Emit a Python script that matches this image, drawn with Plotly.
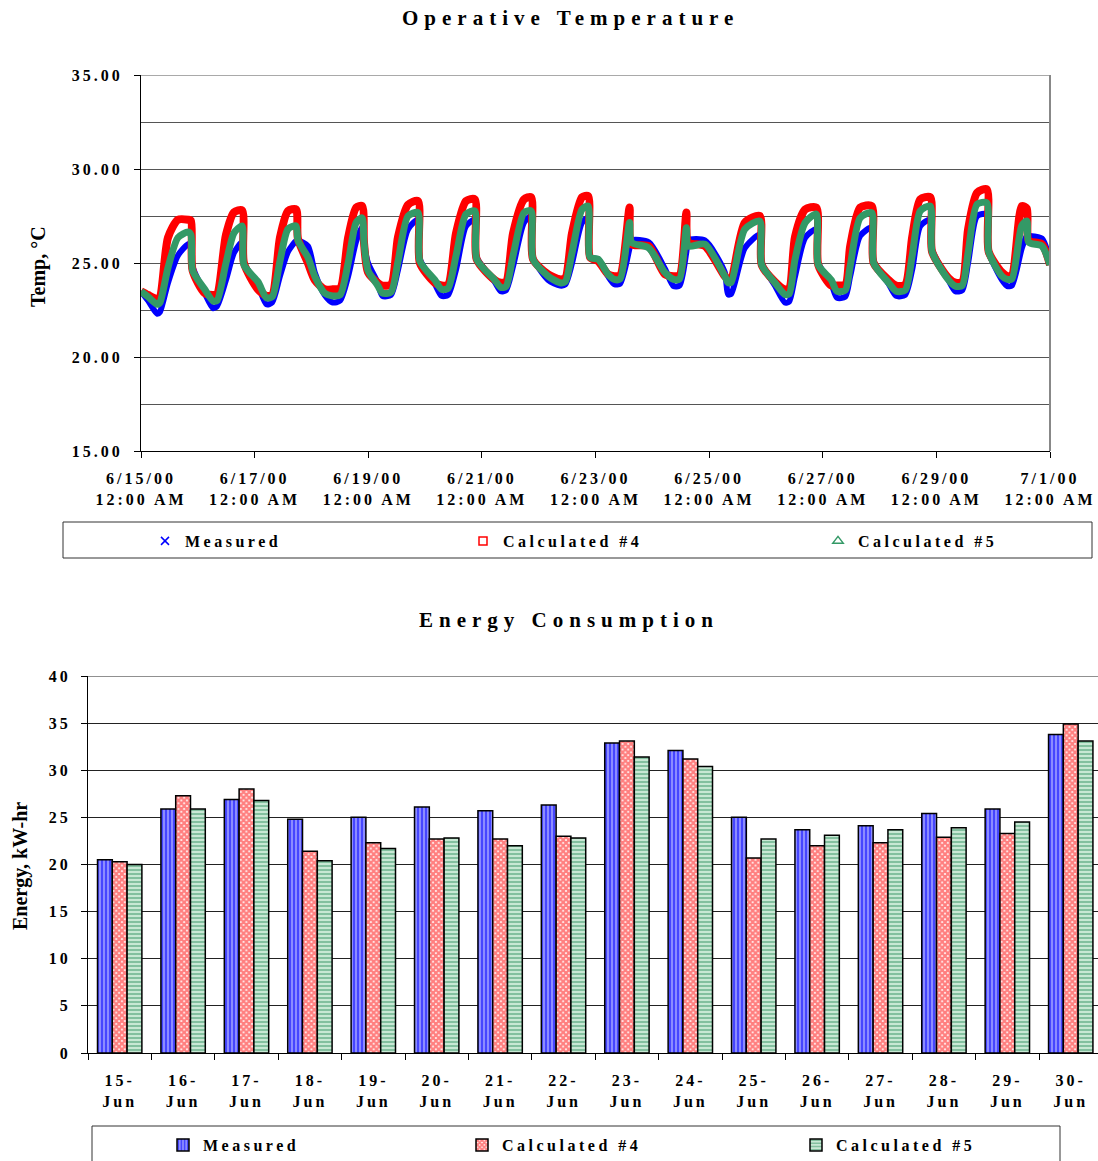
import plotly.graph_objects as go

# ---------------- data: operative temperature (hours since 6/15/00 00:00) ----------------
hours = [0, 3,
         6.8, 8, 11.4, 15.6, 19.9, 21.1, 21.8, 26.9,
         30.4, 32.1, 35.9, 39.3, 42.7, 43.5, 49.4,
         53, 55.4, 58.7, 62.1, 65.5, 66.3, 70.5, 73.4, 77.6,
         81, 84.1, 87.5, 90.9, 93.4, 94.2, 95.9, 100,
         102, 105.6, 108.6, 112.8, 117, 117.8, 124.1,
         127, 129.7, 133.1, 137.3, 141, 141.8, 149.4,
         152, 154.2, 157.2, 161.8, 164.8, 165.6, 172,
         177, 179.2, 182.1, 186.3, 188.9, 189.7, 193.1, 197.3,
         200, 202.4, 206.4, 207.2, 214.5, 221.3,
         225, 227.5, 230.4, 231.2, 238.2, 246.6,
         248, 249.3, 255.1, 261.4, 262.2, 267.8,
         272, 273.8, 276.3, 280.6, 285.3, 286.1, 291.6,
         294, 297.5, 299.6, 303.8, 308.7, 309.5, 315.8,
         319, 322.8, 325.8, 329.2, 333.4, 334.2, 341.1,
         344, 346.9, 349.4, 353.2, 357.3, 358.1, 363.7,
         366, 367.9, 372.1, 374.2, 375, 380.6, 384]

measured = [23.5, 23.0,
            22.3, 22.4, 23.95, 25.4, 26.0, 26.0, 24.8, 23.4,
            22.6, 22.7, 24.1, 25.55, 26.1, 25.0, 23.8,
            22.8, 22.9, 24.3, 25.6, 26.17, 26.2, 25.9, 24.5, 23.3,
            22.9, 23.0, 24.3, 26.17, 26.9, 26.0, 25.0, 23.95,
            23.25, 23.3, 24.66, 26.8, 27.3, 25.2, 23.9,
            23.25, 23.3, 24.66, 26.97, 27.3, 25.3, 24.0,
            23.5, 23.55, 24.84, 27.15, 27.5, 25.3, 24.1,
            23.8, 23.85, 25.0, 27.15, 27.4, 25.3, 25.2, 24.3,
            23.87, 23.9, 25.8, 26.2, 26.1, 24.7,
            23.77, 23.8, 25.6, 26.2, 26.2, 24.5,
            23.33, 23.35, 25.8, 26.5, 25.0, 23.8,
            22.9, 22.95, 24.3, 26.35, 26.8, 25.0, 23.9,
            23.15, 23.2, 24.3, 26.44, 26.88, 25.1, 23.9,
            23.25, 23.3, 24.66, 26.97, 27.3, 25.7, 24.1,
            23.5, 23.55, 25.0, 27.5, 27.59, 25.6, 24.1,
            23.77, 23.8, 25.8, 26.44, 26.44, 26.3, 25.1]

calc4 = [23.5, 23.3,
         23.1, 23.2, 26.35, 27.3, 27.3, 27.25, 24.6, 23.4,
         23.3, 23.35, 26.5, 27.7, 27.8, 25.0, 23.6,
         23.25, 23.3, 26.35, 27.77, 27.85, 26.3, 25.0, 24.1, 23.6,
         23.6, 23.65, 26.35, 27.95, 28.03, 26.1, 24.5, 23.95,
         23.8, 23.85, 26.4, 28.1, 28.3, 25.0, 23.95,
         23.8, 23.85, 26.6, 28.3, 28.39, 25.2, 24.1,
         23.95, 24.0, 26.6, 28.39, 28.5, 25.2, 24.4,
         24.13, 24.2, 26.6, 28.5, 28.56, 25.3, 25.1, 24.4,
         24.3, 24.35, 27.95, 26.0, 25.9, 24.4,
         24.3, 24.35, 27.68, 26.1, 25.9, 24.3,
         24.13, 24.15, 27.15, 27.5, 24.9, 24.0,
         23.6, 23.65, 26.4, 27.85, 27.95, 24.9, 23.8,
         23.8, 23.85, 25.9, 27.95, 28.03, 25.0, 24.1,
         23.8, 23.85, 26.4, 28.39, 28.5, 25.6, 24.2,
         23.95, 24.0, 26.8, 28.74, 28.92, 25.6, 24.5,
         24.3, 24.35, 28.03, 27.9, 26.2, 26.0, 24.9]

calc5 = [23.5, 23.2,
         22.8, 22.9, 24.75, 26.35, 26.65, 26.5, 24.6, 23.6,
         22.98, 23.0, 25.0, 26.6, 26.97, 24.9, 24.0,
         23.15, 23.2, 25.1, 26.8, 26.97, 26.2, 25.3, 24.3, 23.4,
         23.25, 23.3, 25.0, 27.15, 27.4, 26.1, 24.6, 23.8,
         23.4, 23.45, 25.1, 27.5, 27.68, 25.1, 24.1,
         23.6, 23.65, 25.4, 27.6, 27.77, 25.2, 24.1,
         23.7, 23.75, 25.4, 27.68, 27.77, 25.2, 24.3,
         23.95, 24.0, 25.55, 27.85, 28.03, 25.3, 25.2, 24.4,
         24.13, 24.15, 27.15, 26.1, 25.8, 24.5,
         24.13, 24.15, 26.88, 25.9, 26.0, 24.3,
         23.95, 23.97, 26.8, 27.23, 24.9, 23.95,
         23.33, 23.35, 25.2, 27.15, 27.6, 24.9, 24.1,
         23.5, 23.55, 24.84, 27.4, 27.68, 25.0, 23.95,
         23.5, 23.55, 25.4, 27.77, 28.03, 25.6, 24.1,
         23.77, 23.8, 25.55, 28.12, 28.2, 25.6, 24.3,
         24.13, 24.15, 27.0, 27.23, 26.1, 25.9, 24.9]

temp_tick_hours = [0, 48, 96, 144, 192, 240, 288, 336, 384]
temp_tick_labels = ["6/15/00<br>12:00 AM", "6/17/00<br>12:00 AM", "6/19/00<br>12:00 AM",
                    "6/21/00<br>12:00 AM", "6/23/00<br>12:00 AM", "6/25/00<br>12:00 AM",
                    "6/27/00<br>12:00 AM", "6/29/00<br>12:00 AM", "7/1/00<br>12:00 AM"]

# ---------------- data: daily energy consumption (kW-hr) ----------------
days = ["15-Jun", "16-Jun", "17-Jun", "18-Jun", "19-Jun", "20-Jun", "21-Jun", "22-Jun",
        "23-Jun", "24-Jun", "25-Jun", "26-Jun", "27-Jun", "28-Jun", "29-Jun", "30-Jun"]
energy_measured = [20.5, 25.9, 26.9, 24.8, 25.0, 26.1, 25.7, 26.3,
                   32.9, 32.1, 25.0, 23.7, 24.1, 25.4, 25.9, 33.8]
energy_calc4 = [20.3, 27.3, 28.0, 21.4, 22.3, 22.7, 22.7, 23.0,
                33.1, 31.2, 20.7, 22.0, 22.3, 22.9, 23.3, 34.9]
energy_calc5 = [20.0, 25.9, 26.8, 20.4, 21.7, 22.8, 22.0, 22.8,
                31.4, 30.4, 22.7, 23.1, 23.7, 23.9, 24.5, 33.1]

# ---------------- figure ----------------
W, H = 1098, 1161
FAM = "Liberation Serif, Times New Roman, serif"
tickfont = dict(family=FAM, size=16, color="black", weight="bold")
legfont = dict(family=FAM, size=16, color="black", weight="bold")

day_labels = [d.replace("-", "-<br>") for d in days]

fig = go.Figure()

temp_series = [
    ("Measured", measured, "#0000ff", 6, "x-thin-open", 8, "legend"),
    ("Calculated #4", calc4, "#ff0000", 8, "square-open", 8, "legend2"),
    ("Calculated #5", calc5, "#339966", 7, "triangle-up-open", 9, "legend3"),
]
for name, vals, color, lw, sym, msz, lg in temp_series:
    fig.add_trace(go.Scatter(x=hours, y=vals, mode="lines", name=name,
                             line=dict(color=color, width=lw, shape="spline", smoothing=0.7),
                             showlegend=False, xaxis="x", yaxis="y"))
for name, vals, color, lw, sym, msz, lg in temp_series:
    fig.add_trace(go.Scatter(x=[None], y=[None], mode="markers", name=name,
                             marker=dict(symbol=sym, size=msz, color=color,
                                         line=dict(color=color, width=1.5)),
                             showlegend=True, legend=lg, xaxis="x", yaxis="y"))

bar_series = [
    ("Measured", energy_measured, "#0000ff", "#8c8cff", "|", 0.5, "legend4"),
    ("Calculated #4", energy_calc4, "#ff0000", "#ffffff", "x", 0.8, "legend5"),
    ("Calculated #5", energy_calc5, "#2e9060", "#c8e8d4", "-", 0.45, "legend6"),
]
for name, vals, fg, bg, shape, sol, lg in bar_series:
    fig.add_trace(go.Bar(x=day_labels, y=vals, name=name, xaxis="x2", yaxis="y2",
                         marker=dict(color=fg,
                                     pattern=dict(shape=shape, fgcolor=fg, bgcolor=bg,
                                                  size=4, solidity=sol),
                                     line=dict(color="black", width=1.5)),
                         legend=lg))

def leg(xpx, ypx):
    return dict(x=xpx / W, y=1 - ypx / H, xanchor="left", yanchor="middle",
                bgcolor="rgba(0,0,0,0)", borderwidth=0, font=legfont,
                orientation="h", entrywidth=220, entrywidthmode="pixels")

fig.update_layout(
    width=W, height=H,
    margin=dict(l=0, r=0, t=0, b=0, autoexpand=False),
    paper_bgcolor="white", plot_bgcolor="white",
    barmode="group", bargap=0.3, bargroupgap=0,
    xaxis=dict(domain=[141 / W, 1050 / W], range=[0, 384], anchor="y", automargin=False,
               tickmode="array", tickvals=temp_tick_hours, ticktext=temp_tick_labels,
               ticks="outside", ticklen=6, tickcolor="black", showline=True,
               linecolor="black", linewidth=1, showgrid=False, zeroline=False,
               tickfont=tickfont, ticklabelstandoff=7),
    yaxis=dict(domain=[1 - 451 / H, 1 - 75 / H], range=[15, 35], anchor="x", automargin=False,
               tick0=15, dtick=5, tickformat=".2f", ticks="outside", ticklen=6,
               tickcolor="black", showline=True, linecolor="black", linewidth=1,
               showgrid=True, gridcolor="#555555", gridwidth=1, zeroline=False,
               minor=dict(tick0=15, dtick=2.5, showgrid=True, gridcolor="#555555",
                          gridwidth=1, ticks=""),
               tickfont=tickfont, ticklabelstandoff=8),
    xaxis2=dict(domain=[88 / W, 1.0], range=[-0.5, 15.43], anchor="y2", type="category",
                automargin=False,
                ticks="outside", tickson="boundaries", ticklen=6, tickcolor="black",
                showline=True, linecolor="black", linewidth=1, showgrid=False,
                zeroline=False, tickfont=tickfont, ticklabelstandoff=13),
    yaxis2=dict(domain=[1 - 1053 / H, 1 - 676 / H], range=[0, 40], anchor="x2",
                automargin=False,
                dtick=5, ticks="outside", ticklen=6, tickcolor="black", showline=True,
                linecolor="black", linewidth=1, showgrid=True, gridcolor="#222222",
                gridwidth=1, zeroline=False, tickfont=tickfont, ticklabelstandoff=7),
    legend=leg(145, 541), legend2=leg(463, 541), legend3=leg(818, 541),
    legend4=leg(163, 1145), legend5=leg(462, 1145), legend6=leg(796, 1145),
    showlegend=True,
    annotations=[
        dict(text="Operative Temperature", x=570 / W, y=1 - 18 / H, xref="paper", yref="paper",
             showarrow=False, xanchor="center", yanchor="middle",
             font=dict(family=FAM, size=21, color="black", weight="bold")),
        dict(text="Energy Consumption", x=569 / W, y=1 - 620 / H, xref="paper", yref="paper",
             showarrow=False, xanchor="center", yanchor="middle",
             font=dict(family=FAM, size=21, color="black", weight="bold")),
        dict(text="Temp, °C", x=38 / W, y=1 - 267 / H, xref="paper", yref="paper",
             showarrow=False, textangle=-90, xanchor="center", yanchor="middle",
             font=dict(family=FAM, size=20, color="black", weight="bold")),
        dict(text="Energy, kW-hr", x=20 / W, y=1 - 866 / H, xref="paper", yref="paper",
             showarrow=False, textangle=-90, xanchor="center", yanchor="middle",
             font=dict(family=FAM, size=20, color="black", weight="bold")),
    ],
    shapes=[
        dict(type="rect", xref="paper", yref="paper", x0=63 / W, x1=1092 / W,
             y0=1 - 558 / H, y1=1 - 522 / H, line=dict(color="#333333", width=1)),
        dict(type="rect", xref="paper", yref="paper", x0=92 / W, x1=1060 / W,
             y0=1 - 1180 / H, y1=1 - 1126 / H, line=dict(color="#333333", width=1)),
        dict(type="line", xref="paper", yref="paper", x0=1050 / W, x1=1050 / W,
             y0=1 - 451 / H, y1=1 - 75 / H, line=dict(color="#888888", width=2)),
        # top gridlines at the axis maxima
        dict(type="line", xref="x domain", yref="y", x0=0, x1=1, y0=35, y1=35,
             line=dict(color="#555555", width=1), layer="below"),
        dict(type="line", xref="x2 domain", yref="y2", x0=0, x1=1, y0=40, y1=40,
             line=dict(color="#222222", width=1), layer="below"),
    ],
)

post = """
document.documentElement.style.margin = '0';
document.body.style.margin = '0';
document.body.style.padding = '0';
var gd = document.querySelector('.plotly-graph-div');
function spaceText(){
  gd.querySelectorAll('.xtick text, .ytick text, .x2tick text, .y2tick text')
    .forEach(function(t){ t.style.letterSpacing = '3px'; });
  gd.querySelectorAll('.legendtext, .legend2text, .legend3text, .legend4text, .legend5text, .legend6text')
    .forEach(function(t){ t.style.letterSpacing = '3.5px'; });
  gd.querySelectorAll('.annotation-text').forEach(function(t){
    var s = t.textContent;
    if (s === 'Operative Temperature' || s === 'Energy Consumption') { t.style.letterSpacing = '6px'; }
  });
}
spaceText();
gd.on('plotly_afterplot', spaceText);
[50, 200, 500, 1000, 2000].forEach(function(ms){ setTimeout(spaceText, ms); });
"""

fig.write_html("out.html", post_script=post, config=dict(displayModeBar=False))
